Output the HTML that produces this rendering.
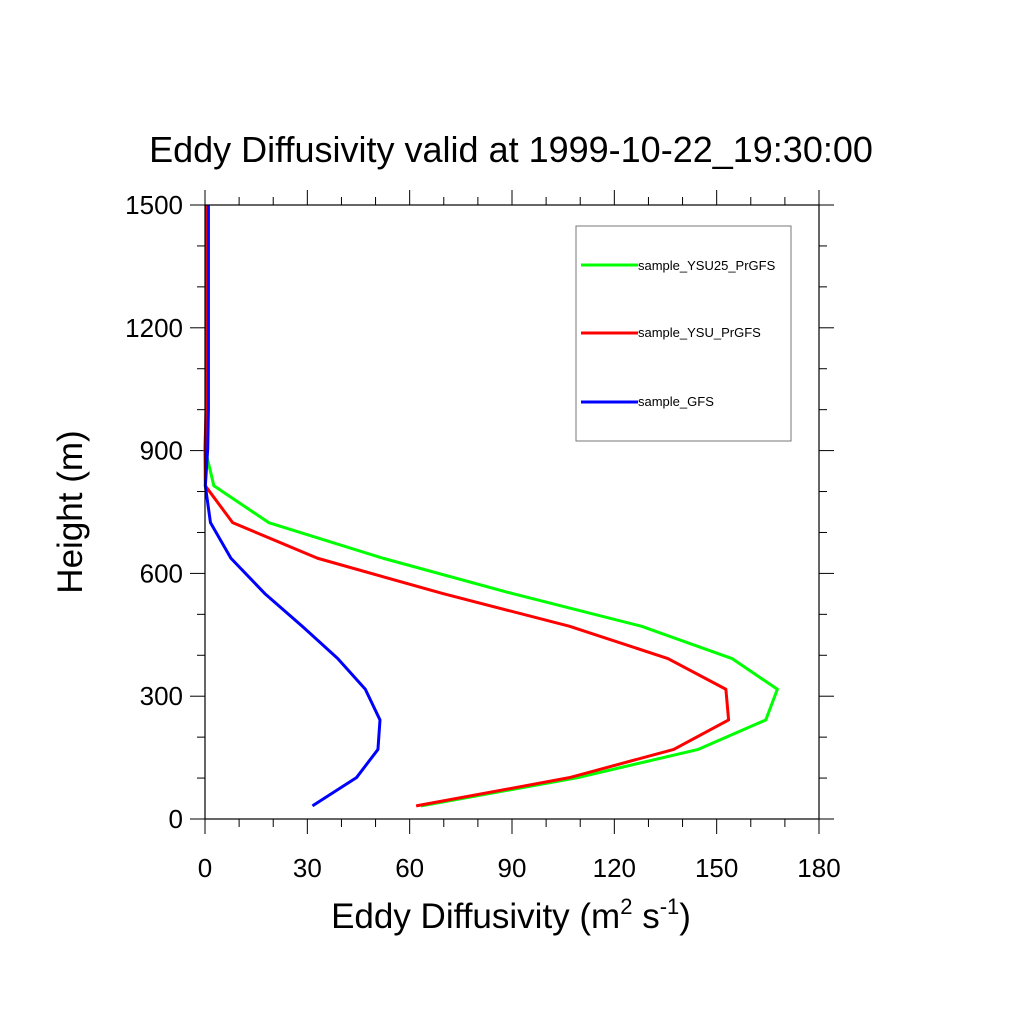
<!DOCTYPE html>
<html><head><meta charset="utf-8"><style>
body{margin:0;background:#fff;}
svg{display:block;font-family:"Liberation Sans",sans-serif;}
</style></head><body>
<svg id="chart" width="1024" height="1024" viewBox="0 0 1024 1024">
<rect width="1024" height="1024" fill="#fff"/>
<text x="511" y="162" font-size="36" text-anchor="middle">Eddy Diffusivity valid at 1999-10-22_19:30:00</text>
<g id="axes"></g>
<g id="series"></g>
<rect x="205" y="205" width="614" height="614" fill="none" stroke="#000" stroke-width="1.2"/>
<text x="511" y="928" font-size="35" text-anchor="middle">Eddy Diffusivity (m<tspan font-size="22" dy="-14">2</tspan><tspan dy="14"> s</tspan><tspan font-size="22" dy="-14">-1</tspan><tspan dy="14">)</tspan></text>
<text x="0" y="0" font-size="35" text-anchor="middle" transform="translate(82,512) rotate(-90)">Height (m)</text>
<g>
<rect x="576" y="226" width="215" height="215" fill="#fff" stroke="#777" stroke-width="1"/>
<line x1="581" y1="265" x2="638" y2="265" stroke="#00ff00" stroke-width="3"/>
<text x="638" y="270" font-size="13">sample_YSU25_PrGFS</text>
<line x1="581" y1="333" x2="638" y2="333" stroke="#ff0000" stroke-width="3"/>
<text x="638" y="337" font-size="13">sample_YSU_PrGFS</text>
<line x1="581" y1="402" x2="638" y2="402" stroke="#0000ff" stroke-width="3"/>
<text x="638" y="406" font-size="13">sample_GFS</text>
</g>
</svg>
<script>
const heights=[32,101,170,242,317,392,471,551,637,724,814,905,1000,1100,1200,1300,1400,1500];
const ysu25=[63.3,109.2,144.6,164.4,167.8,154.5,127.9,90,52.2,18.7,2.6,0,0.5,0.5,0.5,0.5,0.5,0.5];
const ysu=[61.9,106.8,137.4,153.5,152.7,135.7,106.8,69.6,33,8.1,0.1,0,0.3,0.3,0.3,0.3,0.3,0.3];
const gfs=[31.5,44.4,50.7,51.3,47,38.9,28.5,17.5,7.6,1.6,0.1,0.8,1,1,1,1,1,1];
const xTicks=[0,30,60,90,120,150,180];
const yTicks=[0,300,600,900,1200,1500];
const X0=205,X1=819,Y0=819,Y1=205;
const sx=v=>X0+(v-0)/(180-0)*(X1-X0);
const sy=v=>Y0-(v-0)/(1500-0)*(Y0-Y1);
const NS='http://www.w3.org/2000/svg';
const axes=document.getElementById('axes');
function ln(x1,y1,x2,y2,w){const l=document.createElementNS(NS,'line');l.setAttribute('x1',x1);l.setAttribute('y1',y1);l.setAttribute('x2',x2);l.setAttribute('y2',y2);l.setAttribute('stroke','#000');l.setAttribute('stroke-width',w);axes.appendChild(l);return l;}
for(let v=0;v<=180;v+=10){const x=sx(v);const maj=v%30===0;const len=maj?15:8;
const a=ln(x,Y0,x,Y0+len,1);


const b=ln(x,Y1,x,Y1-len,1);

}
for(let v=0;v<=1500;v+=100){const y=sy(v);const maj=v%300===0;const len=maj?15:8;
const a=ln(X0-len,y,X0,y,1);


const b=ln(X1,y,X1+len,y,1);

}
xTicks.forEach(v=>{const t=document.createElementNS(NS,'text');t.setAttribute('x',sx(v));t.setAttribute('y',877);t.setAttribute('font-size','26');t.setAttribute('text-anchor','middle');t.textContent=v;


axes.appendChild(t);});
yTicks.forEach(v=>{const t=document.createElementNS(NS,'text');t.setAttribute('x',183);t.setAttribute('y',sy(v)+9);t.setAttribute('font-size','26');t.setAttribute('text-anchor','end');t.textContent=v;


axes.appendChild(t);});
const ser=document.getElementById('series');
[[ysu25,'#00ff00','line-ysu25'],[ysu,'#ff0000','line-ysu'],[gfs,'#0000ff','line-gfs']].forEach(([d,c,n])=>{
const p=document.createElementNS(NS,'polyline');
p.setAttribute('points',d.map((v,i)=>sx(v)+','+sy(heights[i])).join(' '));
p.setAttribute('fill','none');p.setAttribute('stroke',c);p.setAttribute('stroke-width','3');p.setAttribute('stroke-linejoin','round');


ser.appendChild(p);});
</script>
</body></html>
